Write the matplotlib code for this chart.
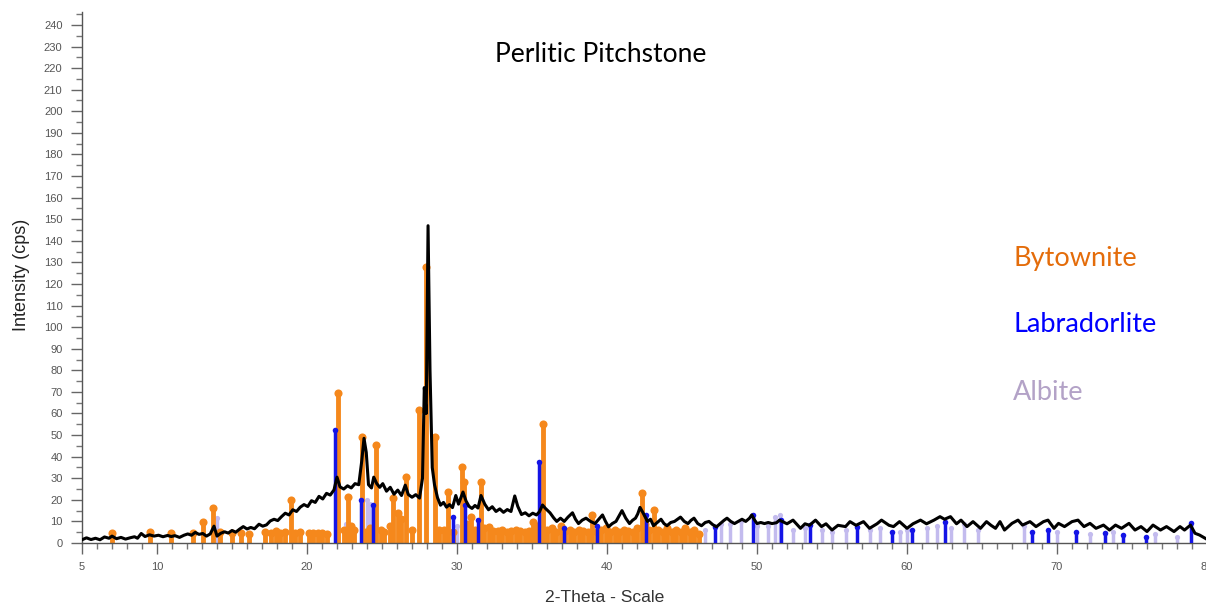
import matplotlib.pyplot as plt
from matplotlib.ticker import MultipleLocator, FixedLocator

# measured pattern: 2-theta (deg) and intensity (cps)
two_theta = [
    5.0, 5.3, 5.6, 5.9, 6.2, 6.5, 6.8, 7.0, 7.3, 7.6, 7.9, 8.2, 8.5, 8.7, 8.95,
    9.2, 9.5, 9.8, 10.1, 10.4, 10.7, 10.95, 11.2, 11.5, 11.8, 12.05, 12.3, 12.55,
    12.8, 13.05, 13.3, 13.55, 13.8, 14.0, 14.25, 14.5, 14.75, 15.0, 15.25, 15.5,
    15.75, 16.0, 16.25, 16.5, 16.8, 17.05, 17.3, 17.55, 17.8, 18.05, 18.3, 18.55,
    18.8, 19.05, 19.3, 19.55, 19.8, 20.05, 20.3, 20.55, 20.8, 21.05, 21.3, 21.55,
    21.8, 22.0, 22.2, 22.45, 22.7, 22.95, 23.2, 23.45, 23.65, 23.8, 23.95, 24.1,
    24.3, 24.45, 24.65, 24.85, 25.05, 25.3, 25.55, 25.8, 26.05, 26.3, 26.55,
    26.75, 27.0, 27.25, 27.5, 27.7, 27.82, 27.95, 28.07, 28.2, 28.35, 28.5, 28.7,
    28.9, 29.1, 29.3, 29.5, 29.7, 29.92, 30.1, 30.4, 30.6, 30.8, 31.0, 31.2, 31.4,
    31.6, 31.85, 32.1, 32.35, 32.6, 32.85, 33.1, 33.35, 33.6, 33.85, 34.05, 34.3,
    34.55, 34.8, 35.05, 35.3, 35.5, 35.7, 35.9, 36.2, 36.45, 36.65, 36.9, 37.15,
    37.4, 37.7, 37.9, 38.1, 38.35, 38.6, 38.9, 39.2, 39.45, 39.7, 39.9, 40.1,
    40.35, 40.6, 40.8, 41.0, 41.25, 41.5, 41.7, 41.9, 42.05, 42.2, 42.4, 42.55,
    42.7, 42.9, 43.1, 43.35, 43.6, 43.8, 44.0, 44.25, 44.5, 44.7, 44.9, 45.15,
    45.4, 45.6, 45.8, 46.05, 46.3, 46.55, 46.8, 47.05, 47.3, 47.55, 47.8, 48.0,
    48.25, 48.5, 48.75, 49.0, 49.25, 49.5, 49.65, 49.85, 50.0, 50.25, 50.5, 50.75,
    51.0, 51.3, 51.5, 52.0, 52.4, 52.9, 53.2, 53.5, 53.9, 54.3, 54.6, 55.0, 55.4,
    55.9, 56.2, 56.6, 57.1, 57.5, 58.0, 58.3, 58.8, 59.1, 59.5, 60.0, 60.4, 60.9,
    61.3, 61.8, 62.2, 62.5, 62.9, 63.3, 63.6, 64.0, 64.4, 64.9, 65.3, 65.6, 65.9,
    66.2, 66.5, 67.0, 67.4, 67.7, 68.2, 68.6, 69.1, 69.4, 69.8, 70.1, 70.5, 71.0,
    71.4, 71.8, 72.2, 72.6, 73.1, 73.5, 73.9, 74.3, 74.8, 75.2, 75.6, 76.0, 76.4,
    76.9, 77.3, 77.8, 78.2, 78.5, 78.9, 79.2, 79.5, 79.9,
]
counts = [
    1.5, 2.4, 1.6, 2.2, 1.5, 2.8, 2.2, 3.2, 2.0, 2.6, 1.8, 2.4, 2.9, 2.2, 4.4,
    3.0, 3.8, 3.2, 3.6, 2.9, 3.5, 3.0, 3.4, 2.6, 3.6, 4.2, 3.6, 4.9,
    4.0, 4.4, 3.2, 4.2, 7.8, 3.2, 4.5, 5.2, 4.6, 5.8, 5.0, 6.4,
    7.6, 6.5, 7.2, 6.6, 8.7, 7.8, 8.4, 10.2, 11.0, 10.4, 12.2, 13.8,
    13.0, 15.4, 14.6, 16.6, 17.8, 16.9, 19.6, 18.8, 21.6, 20.4, 23.0, 22.2,
    24.6, 30.5, 26.0, 25.0, 26.5, 25.5, 27.5, 27.0, 38.0, 48.5, 42.0, 27.0,
    25.5, 30.5, 27.5, 25.8, 27.5, 24.0, 25.8, 22.6, 24.5, 22.0, 26.8,
    22.5, 21.2, 22.4, 20.8, 30.0, 72.0, 60.0, 147.0, 80.0, 35.0, 27.0, 21.0,
    17.5, 18.8, 16.6, 17.8, 16.4, 22.0, 18.0, 23.6, 19.5, 17.0, 16.0, 17.4, 16.2,
    22.0, 18.0, 15.4, 16.8, 14.6, 15.8, 14.2, 15.5, 14.6, 21.8, 17.0, 13.2,
    14.0, 12.6, 13.8, 13.0, 14.5, 17.6, 16.0, 14.0, 11.6, 10.0, 11.5, 10.0,
    12.0, 14.0, 11.0, 9.0, 10.6, 11.5, 10.0, 9.0, 11.0, 13.0, 10.0, 7.5,
    9.0, 10.0, 12.5, 15.0, 11.5, 9.0, 10.5, 11.5, 13.5, 16.5, 14.0, 12.0,
    10.0, 11.0, 8.0, 9.5, 11.0, 9.0, 8.0, 9.5, 10.0, 11.0, 12.0, 10.0,
    9.0, 10.5, 11.5, 9.0, 8.0, 9.5, 10.0, 8.5, 7.5, 9.0, 10.5, 11.5,
    10.0, 9.0, 10.0, 11.0, 10.0, 11.5, 13.0, 10.5, 9.0, 9.5, 9.0, 9.5,
    9.0, 9.4, 10.6, 8.9, 10.6, 6.8, 8.9, 8.2, 10.6, 7.6, 8.9, 6.0, 8.2,
    7.6, 9.9, 8.2, 9.9, 6.8, 8.9, 10.6, 8.2, 7.6, 9.9, 6.8, 8.9, 10.6,
    8.9, 10.6, 12.2, 11.0, 12.2, 8.9, 10.6, 7.6, 9.9, 6.8, 9.9, 8.2, 6.8,
    9.9, 6.0, 9.1, 10.6, 8.3, 9.9, 7.6, 9.9, 10.6, 6.8, 9.1, 7.6, 9.9,
    10.6, 7.6, 9.1, 6.8, 8.3, 6.0, 8.3, 6.8, 9.1, 6.0, 7.6, 5.3, 8.3,
    6.0, 7.6, 5.3, 7.6, 6.0, 8.3, 4.5, 3.7, 2.1,
]

# reference lines
bytownite_pos = [
    6.98, 9.53, 10.96, 12.4, 13.07, 13.75, 14.2, 14.98, 15.6, 16.1, 17.2, 17.6,
    17.9, 18.2, 18.55, 18.93, 19.2, 19.5, 20.1, 20.4, 20.7, 21.0, 21.3, 22.07,
    22.45, 22.75, 22.95, 23.15, 23.64, 23.9, 24.2, 24.58, 24.9, 25.1, 25.55,
    25.76, 26.05, 26.25, 26.6, 27.0, 27.49, 27.93, 28.53, 28.8, 29.1, 29.42,
    29.7, 30.31, 30.47, 30.7, 30.9, 31.2, 31.58, 31.8, 32.1, 32.4, 32.7, 33.0,
    33.3, 33.6, 33.9, 34.2, 34.5, 34.8, 35.07, 35.3, 35.71, 36.0, 36.3, 36.6,
    36.9, 37.2, 37.5, 37.8, 38.1, 38.4, 38.7, 38.98, 39.3, 39.6, 39.9, 40.2,
    40.5, 40.8, 41.1, 41.4, 41.7, 42.0, 42.3, 42.55, 42.8, 43.1, 43.4, 43.7,
    44.0, 44.3, 44.6, 44.9, 45.2, 45.5, 45.8, 46.1,
]
bytownite_int = [
    4.6, 5.2, 4.6, 4.6, 9.9, 16.3, 5.0, 4.6, 4.6, 4.0, 5.0, 4.8,
    5.5, 4.5, 5.0, 20.0, 4.5, 5.0, 4.5, 4.5, 4.7, 4.5, 4.4, 69.6,
    6.0, 21.4, 8.0, 6.0, 49.2, 5.0, 7.0, 45.4, 6.0, 5.0, 8.0,
    20.8, 13.8, 11.0, 30.7, 6.0, 61.6, 128.0, 49.2, 6.0, 6.0, 23.8,
    5.0, 35.3, 28.4, 9.0, 12.2, 6.0, 28.4, 7.0, 7.6, 5.5, 5.5, 6.0,
    5.0, 5.5, 6.0, 5.5, 5.0, 5.5, 9.9, 8.0, 55.0, 6.0, 7.0, 5.0,
    8.0, 5.5, 6.0, 5.0, 6.0, 5.5, 5.0, 13.0, 5.0, 6.0, 7.0, 5.0,
    6.0, 5.0, 6.0, 5.5, 5.0, 7.0, 23.3, 9.0, 6.0, 15.3, 6.0, 5.0,
    7.0, 5.0, 6.0, 5.0, 7.0, 5.0, 6.0, 4.0,
]
labradorite_pos = [
    21.87, 23.58, 24.4, 29.75, 30.53, 31.4, 35.47, 37.1, 39.3, 42.6, 47.2,
    49.76, 51.58, 53.53, 56.64, 58.98, 60.3, 62.53, 68.3, 69.4, 71.27, 73.2,
    74.4, 75.9, 78.9,
]
labradorite_int = [
    52.3, 20.0, 17.6, 12.0, 17.6, 10.6, 37.6, 7.0, 8.0, 13.0, 7.6,
    13.0, 10.6, 8.3, 7.6, 5.2, 6.0, 9.9, 5.2, 6.0, 5.2, 4.5,
    3.8, 2.7, 9.1,
]
albite_pos = [
    13.98, 22.6, 23.97, 24.2, 30.0, 36.5, 46.5, 47.6, 48.2, 48.9, 50.0, 50.7,
    51.2, 51.5, 52.4, 53.2, 54.3, 55.0, 55.9, 57.5, 58.2, 59.5, 60.0, 61.3,
    62.0, 62.9, 63.8, 64.7, 67.8, 70.0, 72.2, 73.7, 76.5, 78.0,
]
albite_int = [
    11.6, 9.0, 20.0, 18.0, 8.0, 6.0, 6.0, 9.0, 9.0, 10.0, 8.0, 8.0,
    12.0, 13.0, 6.0, 7.0, 6.0, 5.0, 6.0, 6.0, 7.0, 5.0, 6.0, 7.0,
    8.0, 7.0, 9.0, 6.0, 8.0, 5.0, 4.0, 5.0, 4.0, 3.0,
]

x_ticks = [5, 10, 20, 30, 40, 50, 60, 70, 80]


def sticks(ax, pos, inten, color, lw, size, z):
    ax.vlines(pos, 0, inten, colors=color, linewidth=lw, zorder=z)
    ax.scatter(pos, inten, s=size, color=color, zorder=z, linewidths=0)


fig = plt.figure(figsize=(12.06, 6.12), dpi=100)
ax = fig.add_axes([82 / 1206, 69 / 612, 1125 / 1206, 531 / 612])

sticks(ax, albite_pos, albite_int, '#C3BBEE', 2.5, 14, 1)
sticks(ax, bytownite_pos, bytownite_int, '#F5881C', 3.5, 34, 2)
sticks(ax, labradorite_pos, labradorite_int, '#1414E6', 2.5, 16, 3)
ax.plot(two_theta, counts, color='black', linewidth=2.2, zorder=4)

ax.set_xlim(5, 80)
ax.set_ylim(0, 246)

for side in ['top', 'right']:
    ax.spines[side].set_visible(False)
for side in ['left', 'bottom']:
    ax.spines[side].set_color('#555555')
    ax.spines[side].set_linewidth(1.0)

ax.xaxis.set_major_locator(FixedLocator(x_ticks))
ax.xaxis.set_minor_locator(MultipleLocator(1))
ax.yaxis.set_major_locator(MultipleLocator(10))
ax.yaxis.set_minor_locator(MultipleLocator(5))
ax.tick_params(which='major', length=8, width=1, color='#666666',
               labelsize=8, labelcolor='#555555', pad=6)
ax.tick_params(which='minor', length=4, width=1, color='#777777')
for lab in ax.get_xticklabels() + ax.get_yticklabels():
    lab.set_family('Liberation Sans')

fig.text(22 / 1206, 1 - 275 / 612, 'Intensity (cps)', rotation=90,
         ha='center', va='center', fontsize=13, color='#222222',
         family='Liberation Sans')
fig.text(605 / 1206, 1 - 598 / 612, '2-Theta - Scale', ha='center',
         va='center', fontsize=12.6, color='#333333', family='Liberation Sans')

fig.text(601 / 1206, 1 - 55 / 612, 'Perlitic Pitchstone', ha='center',
         va='center', fontsize=19, color='black', family='Lato')
fig.text(1013 / 1206, 1 - 258 / 612, 'Bytownite', ha='left', va='center',
         fontsize=19.5, color='#E46C0A', family='Lato')
fig.text(1013 / 1206, 1 - 325 / 612, 'Labradorlite', ha='left', va='center',
         fontsize=19.5, color='#0000FF', family='Lato')
fig.text(1013 / 1206, 1 - 393 / 612, 'Albite', ha='left', va='center',
         fontsize=19.5, color='#B3A2C7', family='Lato')

fig.savefig('out.png', dpi=100)
